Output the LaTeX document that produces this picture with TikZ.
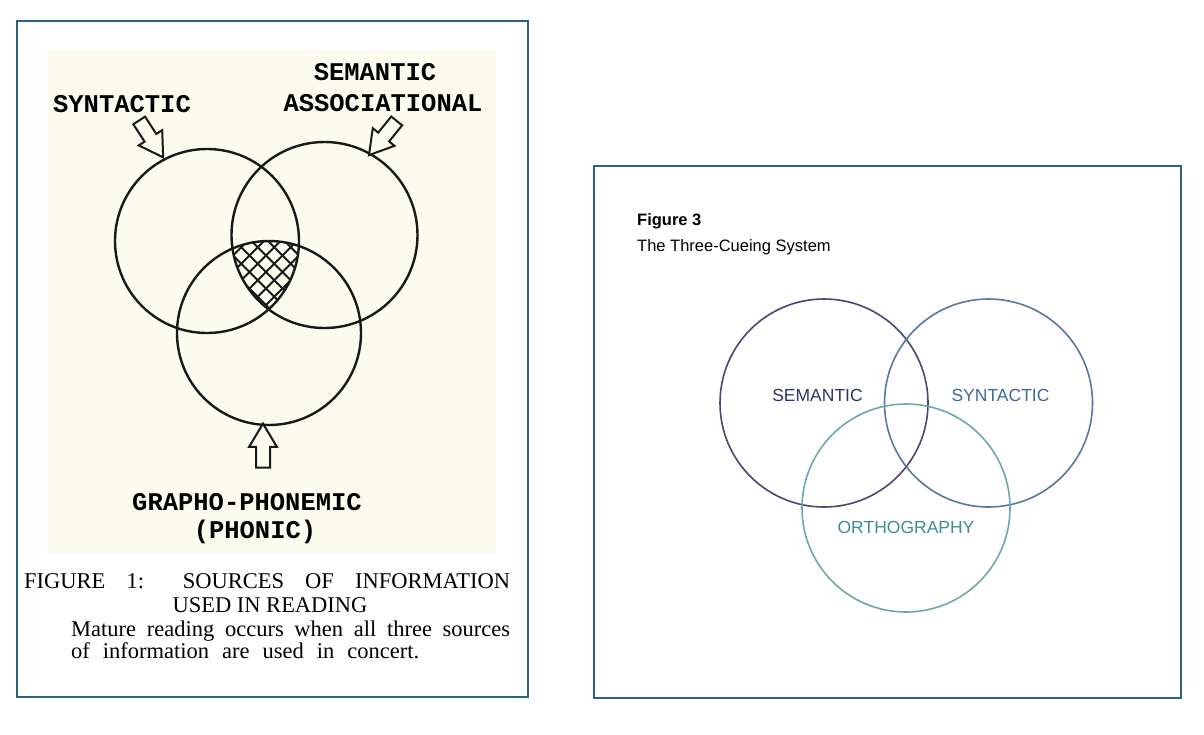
\documentclass[tikz,border=0pt]{standalone}
\usepackage{fontspec}
\setmainfont{Liberation Serif}
\newfontfamily\typefont{Liberation Mono}
\newfontfamily\helvfont{Liberation Sans}
\usepackage{tikz}
\usetikzlibrary{positioning, shapes.arrows, calc}

\definecolor{rahmen}{RGB}{44,99,128}
\definecolor{papier}{RGB}{252,252,238}
\definecolor{semkreis}{RGB}{72,72,112}
\definecolor{synkreis}{RGB}{88,120,160}
\definecolor{orthkreis}{RGB}{110,168,172}
\definecolor{semtext}{RGB}{47,53,102}
\definecolor{syntext}{RGB}{63,106,150}
\definecolor{orthtext}{RGB}{62,141,146}

\begin{document}
\begin{tikzpicture}[x=1pt, y=-1pt,
    rahmenbox/.style={draw=rahmen, line width=2.2pt},
    kreis/.style={circle, draw=black!90, line width=2.4pt, inner sep=0pt},
    schraffur/.style={draw=black!90, line width=1.8pt},
    blockpfeil/.style={single arrow, draw=black!90, line width=2pt, fill=papier,
      minimum height=44pt, inner xsep=0pt, inner ysep=6pt,
      single arrow head extend=7pt, single arrow tip angle=62},
    schreib/.style={font=\typefont\bfseries\fontsize{25.5}{27}\selectfont, anchor=base, inner sep=0pt},
    caption/.style={font=\fontsize{22.5}{26}\selectfont, anchor=base west, inner sep=0pt},
    venn/.style={circle, minimum size=208pt, inner sep=0pt, line width=1.6pt},
    vennlabel/.style={font=\helvfont\fontsize{17.5}{20}\selectfont, inner sep=0pt}
  ]
  \useasboundingbox (0,0) rectangle (1204,734);
  \fill[white] (0,0) rectangle (1204,734);

  % linke Abbildung
  \fill[papier] (47,50) rectangle (496,553);
  \draw[rahmenbox] (17,21) rectangle (528,697);

  \node[kreis, minimum size=184pt] (syn) at (207,241) {};
  \node[kreis, minimum size=186pt] (sem) at (324.5,235) {};
  \node[kreis, minimum size=184pt] (pho) at (269,333) {};

  % Schnittmenge schraffiert
  \begin{scope}
    \clip (syn.center) circle (92pt);
    \clip (sem.center) circle (93pt);
    \clip (pho.center) circle (92pt);
    \foreach \k in {-6,...,6} {
      \draw[schraffur] (266+\k*16.5-70, 272-70) -- ++(140,140);
      \draw[schraffur] (266+\k*16.5-70, 272+70) -- ++(140,-140);
    }
  \end{scope}

  % Pfeile und Beschriftung
  \node[blockpfeil, rotate=-57] (synpfeil) at (148,134) {};
  \node[blockpfeil, rotate=-129] (sempfeil) at (386.5,133.5) {};
  \node[blockpfeil, rotate=90] (phopfeil) at (263,451.5) {};

  \node[schreib] (synlabel) at (122,112) {SYNTACTIC};
  \node[schreib] (semlabel) at (375,80) {SEMANTIC};
  \node[schreib] (asslabel) at (383,111) {ASSOCIATIONAL};
  \node[schreib] (pholabel) at (247,510) {GRAPHO-PHONEMIC};
  \node[schreib] (phonic) at (255,538) {(PHONIC)};

  \node[caption] (fig1) at (24,588) {\makebox[486pt][s]{FIGURE 1: SOURCES OF INFORMATION}};
  \node[caption, anchor=base] (used) at (270,612) {USED IN READING};
  \node[caption] (mature) at (71,636) {\makebox[439pt][s]{Mature reading occurs when all three sources}};
  \node[caption] (concert) at (71,658) {\makebox[348pt][s]{of information are used in concert.}};

  % rechte Abbildung
  \draw[rahmenbox] (594,166) rectangle (1181,698);
  \node[font=\helvfont\bfseries\fontsize{16.5}{19}\selectfont, anchor=base west, inner sep=0pt] (fig3) at (637,225.5) {Figure 3};
  \node[font=\helvfont\fontsize{16.5}{19}\selectfont, anchor=base west, inner sep=0pt] (fig3titel) at (637,251) {The Three-Cueing System};

  \node[venn, draw=semkreis] (semantic) at (824,403) {};
  \node[venn, draw=synkreis] (syntactic) at (988.5,403) {};
  \node[venn, draw=orthkreis] (ortho) at (906,508) {};

  \node[vennlabel, text=semtext] (semtxt) at (817.5,395) {SEMANTIC};
  \node[vennlabel, text=syntext] (syntxt) at (1000.5,395) {SYNTACTIC};
  \node[vennlabel, text=orthtext] (orthtxt) at (906,527) {ORTHOGRAPHY};
\end{tikzpicture}
\end{document}
